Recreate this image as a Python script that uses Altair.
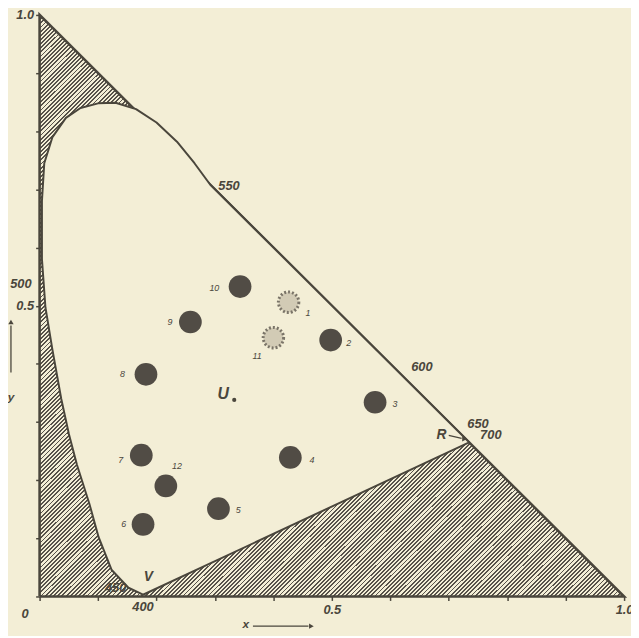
import altair as alt
import pandas as pd

INK = "#4a463c"
BG = "#f3eed6"
HATCH = "#57524a"
DOT = "#514c45"
FONT = "Liberation Sans"

# ---- data -------------------------------------------------------------
tick_vals = [0.0, 0.1, 0.2, 0.3, 0.4, 0.5, 0.6, 0.7, 0.8, 0.9, 1.0]

# outer triangle (0,0) - (1,0) - (0,1)
tri_x = [0.0, 1.0, 0.0, 0.0]
tri_y = [0.0, 0.0, 1.0, 0.0]

# spectrum locus from V (400 nm) up the left side and over the top to the hypotenuse (~550 nm)
locus_x = [0.177, 0.152, 0.123, 0.101, 0.085, 0.064, 0.050, 0.037, 0.022, 0.010,
           0.004, 0.004, 0.008, 0.022, 0.045, 0.070, 0.100, 0.130, 0.165, 0.200,
           0.235, 0.265, 0.292]
locus_y = [0.003, 0.015, 0.046, 0.102, 0.160, 0.226, 0.280, 0.340, 0.424, 0.497,
           0.580, 0.680, 0.745, 0.790, 0.823, 0.840, 0.848, 0.849, 0.838, 0.815,
           0.782, 0.745, 0.708]
# red primary R on the hypotenuse (purple line V-R closes the gamut)
r_x, r_y = 0.735, 0.265

# samples
dot_id = ["1", "2", "3", "4", "5", "6", "7", "8", "9", "10", "11", "12"]
dot_x = [0.426, 0.498, 0.574, 0.429, 0.306, 0.177, 0.174, 0.182, 0.258, 0.343, 0.400, 0.216]
dot_y = [0.506, 0.441, 0.334, 0.239, 0.151, 0.124, 0.243, 0.382, 0.472, 0.533, 0.445, 0.190]
dot_kind = ["speckled", "solid", "solid", "solid", "solid", "solid", "solid", "solid",
            "solid", "solid", "speckled", "solid"]
lab_x = [0.459, 0.529, 0.608, 0.466, 0.340, 0.144, 0.139, 0.142, 0.223, 0.299, 0.372, 0.235]
lab_y = [0.487, 0.436, 0.331, 0.234, 0.148, 0.124, 0.234, 0.382, 0.472, 0.531, 0.413, 0.224]

# white point U
u_x, u_y = 0.333, 0.338

# annotations
ann_text = ["0", "400", "450", "V", "500", "550", "600", "650", "700", "R", "U", "x", "y"]
ann_x = [-0.025, 0.177, 0.130, 0.186, -0.032, 0.324, 0.654, 0.750, 0.772, 0.6875, 0.314, 0.353, -0.049]
ann_y = [-0.031, -0.019, 0.014, 0.034, 0.537, 0.706, 0.394, 0.297, 0.278, 0.277, 0.348, -0.048, 0.343]
ann_size = [13, 13, 13, 14, 13, 13, 13, 13, 13, 14, 16, 12, 12]

# arrows (axis arrows and R pointer)
arr_x1 = [0.365, -0.049, 0.700]
arr_y1 = [-0.051, 0.385, 0.277]
arr_x2 = [0.460, -0.049, 0.722]
arr_y2 = [-0.051, 0.466, 0.272]
head_x = [0.465, -0.049, 0.727]
head_y = [-0.051, 0.472, 0.271]
head_shape = ["triangle-right", "triangle-up", "triangle-right"]

# ---- frames ------------------------------------------------------------
df_tri = pd.DataFrame({"x": tri_x, "y": tri_y, "i": range(len(tri_x))})
ix = locus_x + [r_x, locus_x[0]]
iy = locus_y + [r_y, locus_y[0]]
df_in = pd.DataFrame({"x": ix, "y": iy, "i": range(len(ix))})
df_dots = pd.DataFrame({"id": dot_id, "x": dot_x, "y": dot_y, "kind": dot_kind,
                        "lx": lab_x, "ly": lab_y})
df_u = pd.DataFrame({"x": [u_x], "y": [u_y]})
df_ann = pd.DataFrame({"t": ann_text, "x": ann_x, "y": ann_y, "s": ann_size})
df_arr = pd.DataFrame({"x": arr_x1, "y": arr_y1, "x2": arr_x2, "y2": arr_y2})
df_head = pd.DataFrame({"x": head_x, "y": head_y, "shape": head_shape})

# hatch via striped linear gradient
n = 280
stops = []
for k in range(n):
    a = round(k / n, 6)
    b = round((k + 0.45) / n, 6)
    c = round((k + 1) / n, 6)
    stops += [{"offset": a, "color": HATCH}, {"offset": b, "color": HATCH},
              {"offset": b, "color": BG}, {"offset": c, "color": BG}]
grad = {"gradient": "linear", "x1": 0, "y1": 0, "x2": 1, "y2": 1, "stops": stops}

xs = alt.Scale(domain=[0, 1], nice=False, zero=False)
ys = alt.Scale(domain=[0, 1], nice=False, zero=False)
common_axis = dict(values=tick_vals, domain=False, grid=False, tickSize=4, tickWidth=1.5,
                   tickColor=INK, labelFont=FONT, labelFontStyle="italic",
                   labelFontWeight="bold", labelFontSize=13, labelColor=INK,
                   labelFlush=False, labelOverlap=False, title=None)
xaxis = alt.Axis(labelExpr="datum.value == 0.5 ? '0.5' : datum.value == 1 ? '1.0' : ''",
                 labelPadding=3, **common_axis)
yaxis = alt.Axis(labelExpr="datum.value == 0.5 ? '0.5' : datum.value == 1 ? '1.0' : ''",
                 labelPadding=2, **common_axis)


def X(f):
    return alt.X(f, type="quantitative", scale=xs, axis=xaxis)


def Y(f):
    return alt.Y(f, type="quantitative", scale=ys, axis=yaxis)


hatch = alt.Chart(df_tri).mark_line(fill=grad, stroke=INK, strokeWidth=2.6,
                                    strokeJoin="miter").encode(
    x=X("x"), y=Y("y"), order="i:Q")

inner = alt.Chart(df_in).mark_line(fill=BG, stroke=INK, strokeWidth=2.0,
                                   strokeJoin="round").encode(
    x=X("x"), y=Y("y"), order="i:Q")

solid = alt.Chart(df_dots).transform_filter("datum.kind == 'solid'").mark_circle(
    size=530, color=DOT, opacity=1).encode(x=X("x"), y=Y("y"))

speck = alt.Chart(df_dots).transform_filter("datum.kind == 'speckled'").mark_point(
    shape="circle", size=430, filled=True, fill="#d2cbb5", stroke="#7a7468",
    strokeWidth=3, strokeDash=[2, 2], opacity=1).encode(x=X("x"), y=Y("y"))

dot_labels = alt.Chart(df_dots).mark_text(fontSize=9, fontStyle="italic", font=FONT,
                                          color=INK).encode(
    x=X("lx"), y=Y("ly"), text="id:N")

u_dot = alt.Chart(df_u).mark_circle(size=18, color=INK, opacity=1).encode(x=X("x"), y=Y("y"))

ann = alt.Chart(df_ann).mark_text(font=FONT, fontStyle="italic", fontWeight="bold",
                                  color=INK, baseline="middle").encode(
    x=X("x"), y=Y("y"), text="t:N", size=alt.Size("s:Q", scale=None, legend=None))

arrows = alt.Chart(df_arr).mark_rule(color=INK, strokeWidth=1.3).encode(
    x=X("x"), y=Y("y"), x2="x2", y2="y2")

heads = alt.Chart(df_head).mark_point(filled=True, size=30, color=INK, opacity=1).encode(
    x=X("x"), y=Y("y"), shape=alt.Shape("shape:N", scale=None, legend=None))

chart = alt.layer(hatch, inner, solid, speck, dot_labels, u_dot, ann, arrows, heads).properties(
    width=592, height=589,
    autosize=alt.AutoSizeParams(type="none"),
    padding={"left": 32, "top": 3, "right": 7, "bottom": 36},
    background=BG,
).configure_view(stroke=None)

chart.save("out.html", embed_options={"renderer": "svg", "actions": False})
